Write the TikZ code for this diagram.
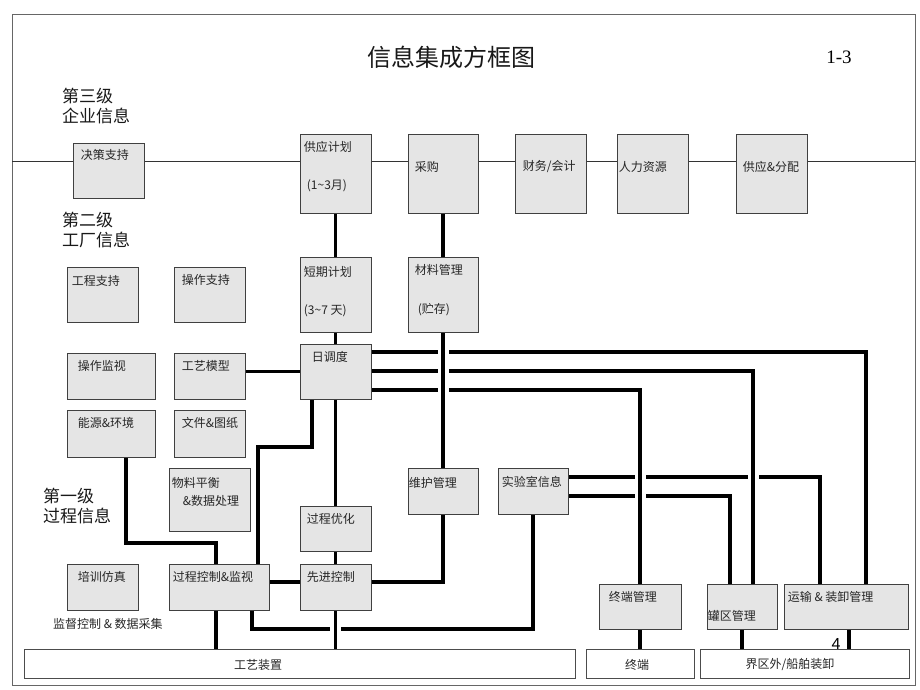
\documentclass[tikz,border=0pt]{standalone}
\usepackage{fontspec}
\setmainfont{Liberation Serif}
\newfontfamily\cjk{Noto Sans CJK SC}
\newfontfamily\arialf{Liberation Sans}
\usetikzlibrary{calc,shadows,backgrounds}

\begin{document}
\begin{tikzpicture}[x=1pt, y=-1pt,
    box/.style={draw=black!75, line width=0.6pt, fill=black!10, inner sep=0pt, minimum width=71pt, minimum height=46pt,
                drop shadow={shadow xshift=1.2pt, shadow yshift=-1.2pt, fill=black!60, opacity=1}},
    bar/.style={draw=black!70, line width=0.6pt, fill=white, inner sep=0pt, minimum height=29pt},
    boxtext/.style={anchor=west, inner sep=0pt, font=\cjk\fontsize{12}{14}\selectfont, text=black!85},
    level/.style={anchor=west, inner sep=0pt, align=left, font=\cjk\fontsize{17}{19.5}\selectfont, text=black!90},
    bus/.style={line width=3.6pt, black},
    gapover/.style={preaction={draw=white, line width=11pt}},
    thinline/.style={line width=0.8pt, black!80}]

        % Title and level headings
        \node[inner sep=0pt, font=\cjk\fontsize{24}{28}\selectfont, text=black!90] (title) at (451,57) {信息集成方框图};
        \node[inner sep=0pt, font=\fontsize{19}{22}\selectfont] (pagenum) at (839,57) {1-3};
        \node[level] (lvl3) at (62,106) {第三级\\企业信息};
        \node[level] (lvl2) at (62,230) {第二级\\工厂信息};
        \node[level] (lvl1) at (43,506) {第一级\\过程信息};

        % Level 3 boxes
        \node[box, minimum height=55pt] (dss) at (108.5,170.5) {};
        \node[boxtext] (dss-t) at ($(dss.north west)+(8,12)$) {决策支持};
        \node[box, minimum height=79pt] (supply) at (335.5,173.5) {};
        \node[boxtext] (supply-t) at ($(supply.north west)+(4,13)$) {供应计划};
        \node[boxtext] (supply-r) at ($(supply.north west)+(7,52)$) {(1\textasciitilde3月)};
        \node[box, minimum width=70pt, minimum height=79pt] (purch) at (443,173.5) {};
        \node[boxtext] (purch-t) at ($(purch.north west)+(7,33)$) {采购};
        \node[box, minimum height=79pt] (fin) at (550.5,173.5) {};
        \node[boxtext] (fin-t) at ($(fin.north west)+(8,33)$) {财务/会计};
        \node[box, minimum height=79pt] (hr) at (652.5,173.5) {};
        \node[boxtext] (hr-t) at ($(hr.north west)+(2,33)$) {人力资源};
        \node[box, minimum height=79pt] (dist) at (771.5,173.5) {};
        \node[boxtext] (dist-t) at ($(dist.north west)+(7,33)$) {供应\&分配};

        % Level 2 boxes
        \node[box, minimum height=55pt] (eng) at (102.5,294.5) {};
        \node[boxtext] (eng-t) at ($(eng.north west)+(5,14)$) {工程支持};
        \node[box, minimum height=55pt] (opsup) at (209.5,294.5) {};
        \node[boxtext] (opsup-t) at ($(opsup.north west)+(8,13)$) {操作支持};
        \node[box, minimum height=75pt] (short) at (335.5,294.5) {};
        \node[boxtext] (short-t) at ($(short.north west)+(4,15)$) {短期计划};
        \node[boxtext] (short-r) at ($(short.north west)+(4,54)$) {(3\textasciitilde7 天)};
        \node[box, minimum width=70pt, minimum height=75pt] (mat) at (443,294.5) {};
        \node[boxtext] (mat-t) at ($(mat.north west)+(7,13)$) {材料管理};
        \node[boxtext] (mat-r) at ($(mat.north west)+(10,53)$) {(贮存)};
        \node[box, minimum width=88pt] (opmon) at (111,376) {};
        \node[boxtext] (opmon-t) at ($(opmon.north west)+(11,13)$) {操作监视};
        \node[box] (model) at (209.5,376) {};
        \node[boxtext] (model-t) at ($(model.north west)+(8,13)$) {工艺模型};
        \node[box, minimum height=55pt] (day) at (335.5,371.5) {};
        \node[boxtext] (day-t) at ($(day.north west)+(12,13)$) {日调度};
        \node[box, minimum width=88pt, minimum height=47pt] (energy) at (111,433.5) {};
        \node[boxtext] (energy-t) at ($(energy.north west)+(11,13)$) {能源\&环境};
        \node[box, minimum height=47pt] (docs) at (209.5,433.5) {};
        \node[boxtext] (docs-t) at ($(docs.north west)+(8,13)$) {文件\&图纸};

        % Level 1 boxes
        \node[box, minimum width=81pt, minimum height=63pt] (balance) at (209.5,499.5) {};
        \node[boxtext] (balance-t) at ($(balance.north west)+(3,15)$) {物料平衡};
        \node[boxtext] (balance-r) at ($(balance.north west)+(14,33)$) {\&数据处理};
        \node[box, minimum height=45pt] (opt) at (335.5,528.5) {};
        \node[boxtext] (opt-t) at ($(opt.north west)+(7,13)$) {过程优化};
        \node[box, minimum width=70pt] (maint) at (443,491) {};
        \node[boxtext] (maint-t) at ($(maint.north west)+(1,15)$) {维护管理};
        \node[box, minimum width=70pt] (lab) at (533,491) {};
        \node[boxtext] (lab-t) at ($(lab.north west)+(4,14)$) {实验室信息};
        \node[box] (train) at (102.5,587) {};
        \node[boxtext] (train-t) at ($(train.north west)+(11,13)$) {培训仿真};
        \node[box, minimum width=100pt] (pcs) at (219,587) {};
        \node[boxtext] (pcs-t) at ($(pcs.north west)+(4,13)$) {过程控制\&监视};
        \node[box] (apc) at (335.5,587) {};
        \node[boxtext] (apc-t) at ($(apc.north west)+(7,13)$) {先进控制};
        \node[box, minimum width=82pt, minimum height=45pt] (term) at (640,606.5) {};
        \node[boxtext] (term-t) at ($(term.north west)+(10,13)$) {终端管理};
        \node[box, minimum width=70pt, minimum height=45pt] (tank) at (742,606.5) {};
        \node[boxtext] (tank-t) at ($(tank.north west)+(1,32)$) {罐区管理};
        \node[box, minimum width=124pt, minimum height=45pt] (ship) at (846,606.5) {};
        \node[boxtext] (ship-t) at ($(ship.north west)+(4,13)$) {运输 \& 装卸管理};
        \node[boxtext] (scada) at (53,624) {监督控制 \& 数据采集};

        % Plant floor bars
        \node[bar, minimum width=551pt] (plant) at (299.5,663.5) {};
        \node[boxtext, anchor=center] (plant-t) at (258,665) {工艺装置};
        \node[bar, minimum width=108pt] (termbar) at (640,663.5) {};
        \node[boxtext, anchor=center] (termbar-t) at (637,665) {终端};
        \node[bar, minimum width=209pt] (offsite) at (804.5,663.5) {};
        \node[boxtext, anchor=center] (offsite-t) at (790,665) {界区外/船舶装卸};
        \node[inner sep=0pt, font=\arialf\fontsize{16}{18}\selectfont] (mark4) at (836,644) {4};

        \begin{scope}[on background layer]
        \fill[white] (0,0) rectangle (920,690);
        \draw[black!60, line width=0.8pt] (12,14) rectangle (915,685);

        % Enterprise bus
        \coordinate (lft) at (12,161);
        \coordinate (rgt) at (915,161);
        \draw[thinline] (lft) -- (rgt);

        % Vertical links between levels
        \draw[bus] (supply.south) -- (short.north);
        \draw[bus] (purch.south) -- (mat.north);
        \draw[bus] (short.south) -- (day.north);
        \draw[bus] (model.east |- day.west) -- (day.west);

        % Lab lines (broken where crossed)
        \draw[bus] (lab.east |- 0,477) -| (ship.north -| 820,0);
        \draw[bus] (lab.east |- 0,496) -| (tank.north -| 730,0);

        % Daily schedule to offsite
        \draw[bus, gapover] (day.east |- 0,352) -| (ship.north -| 866,0);
        \draw[bus, gapover] (day.east |- 0,371) -| (tank.north -| 753,0);
        \draw[bus, gapover] (day.east |- 0,390) -| (term.north);
        \draw[bus, gapover] (mat.south) -- (maint.north);

        % Process level links
        \draw[bus] (day.south -| 312,0) -- (312,447) -| (pcs.north -| 258,0);
        \draw[bus] (day.south) -- (opt.north);
        \draw[bus] (opt.south) -- (apc.north);
        \draw[bus] (energy.south -| 126,0) -- (126,543) -| (pcs.north -| 216,0);
        \draw[bus] (pcs.east |- 0,582) -- (apc.west |- 0,582);
        \draw[bus] (apc.east |- 0,582) -| (maint.south);
        \draw[bus] (pcs.south -| 216,0) -- (plant.north -| 216,0);
        \draw[bus] (pcs.south -| 252,0) |- (lab.south |- 0,629) -- (lab.south);
        \draw[bus, gapover] (apc.south) -- (plant.north -| apc.south);
        \draw[bus] (term.south) -- (termbar.north);
        \draw[bus] (tank.south) -- (offsite.north -| tank.south);
        \draw[bus] (ship.south -| 849,0) -- (offsite.north -| 849,0);
        \end{scope}
\end{tikzpicture}
\end{document}
